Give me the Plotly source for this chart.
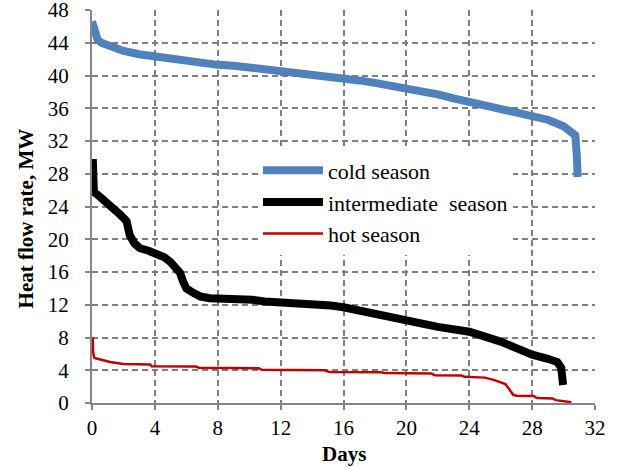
import plotly.graph_objects as go

cold_days = [0, 0.08, 0.2, 0.35, 0.6, 1, 1.5, 2, 3, 4, 5, 6, 7, 8, 9, 10, 11, 12, 13, 14, 15, 16, 17, 18, 19, 20, 21, 22, 23, 24, 25, 26, 27, 28, 29, 30, 30.5, 30.75, 30.85, 30.9]
cold_vals = [46.6, 46.2, 45.2, 44.4, 44.0, 43.7, 43.3, 43.0, 42.6, 42.3, 42.0, 41.8, 41.6, 41.3, 41.2, 41.0, 40.8, 40.6, 40.3, 40.1, 39.9, 39.7, 39.4, 39.1, 38.8, 38.5, 38.1, 37.7, 37.2, 36.8, 36.4, 36.0, 35.6, 35.1, 34.6, 33.8, 33.2, 32.7, 30.0, 27.6]

inter_days = [0.05, 0.08, 0.12, 0.5, 1.15, 1.8, 2.2, 2.4, 2.7, 3.05, 3.6, 4.1, 4.6, 5.0, 5.4, 5.6, 5.8, 6.0, 6.5, 6.9, 7.5, 8.0, 9.0, 10.2, 11.0, 12.2, 13.2, 14.5, 15.2, 16.0, 17.5, 19.0, 20.0, 22.0, 24.0, 25.0, 26.0, 27.0, 28.0, 29.0, 29.6, 29.85, 29.95, 29.97]
inter_vals = [29.8, 27.5, 25.8, 25.2, 24.2, 23.0, 22.2, 20.5, 19.5, 18.9, 18.6, 18.3, 17.8, 17.2, 16.5, 15.9, 14.8, 14.0, 13.4, 13.0, 12.8, 12.8, 12.6, 12.6, 12.4, 12.3, 12.2, 12.0, 11.9, 11.7, 11.1, 10.4, 9.9, 9.3, 8.7, 8.2, 7.5, 6.7, 5.9, 5.4, 5.0, 4.3, 3.2, 2.2]

hot_days = [0.05, 0.07, 0.15, 0.5, 1.15, 2.0, 3.7, 3.8, 6.6, 6.8, 10.6, 10.8, 14.8, 15.1, 18.4, 18.6, 21.6, 21.8, 23.5, 23.7, 25.0, 25.6, 26.3, 26.5, 26.8, 27.0, 28.1, 28.3, 29.3, 29.5, 30.5]
hot_vals = [8.0, 6.2, 5.5, 5.3, 5.0, 4.75, 4.7, 4.5, 4.45, 4.3, 4.25, 4.05, 4.0, 3.8, 3.75, 3.65, 3.6, 3.4, 3.35, 3.2, 3.1, 2.8, 2.3, 1.8, 1.0, 0.9, 0.85, 0.6, 0.55, 0.35, 0.1]

x_ticks = [0, 4, 8, 12, 16, 20, 24, 28, 32]
y_ticks = [0, 4, 8, 12, 16, 20, 24, 28, 32, 36, 40, 44, 48]

fig = go.Figure()
fig.add_trace(go.Scatter(x=cold_days, y=cold_vals, mode="lines", name="cold season",
                         legendgroup="a", line=dict(color="#4F81BD", width=8)))
fig.add_trace(go.Scatter(x=inter_days, y=inter_vals, mode="lines", name="intermediate  season",
                         legendgroup="b", line=dict(color="#000000", width=8)))
fig.add_trace(go.Scatter(x=hot_days, y=hot_vals, mode="lines", name="hot season",
                         legendgroup="c", line=dict(color="#C00000", width=2.5)))

font_family = "Liberation Serif"
axis_common = dict(
    showgrid=True, gridcolor="#7F7F7F", gridwidth=1.5, griddash="6px,4px",
    showline=True, linecolor="#868686", linewidth=2,
    ticks="outside", ticklen=5, tickcolor="#868686", tickwidth=1.5,
    zeroline=False, ticklabeloverflow="allow",
    tickfont=dict(family=font_family, size=21, color="#000000"),
)
fig.update_xaxes(range=[0, 32], tickvals=x_ticks, ticktext=[str(v) for v in x_ticks],
                 ticklabelstandoff=0, **axis_common)
fig.update_yaxes(range=[0, 48], tickvals=y_ticks, ticktext=[str(v) for v in y_ticks],
                 ticklabelstandoff=12, **axis_common)

fig.add_annotation(text="<b>Heat flow rate, MW</b>", xref="paper", yref="paper",
                   x=-0.131, y=0.47, xanchor="center", yanchor="middle", textangle=-90,
                   showarrow=False, font=dict(family=font_family, size=21, color="#000"))
fig.add_annotation(text="<b>Days</b>", xref="paper", yref="paper",
                   x=0.5, y=-0.13, xanchor="center", yanchor="middle",
                   showarrow=False, font=dict(family=font_family, size=21, color="#000"))

fig.update_layout(
    width=620, height=467,
    margin=dict(l=92, r=25, t=10, b=64, autoexpand=False),
    paper_bgcolor="white", plot_bgcolor="white",
    font=dict(family=font_family),
    showlegend=True,
    legend=dict(x=0.33, y=0.645, xanchor="left", yanchor="top",
                bgcolor="rgba(255,255,255,1)", borderwidth=0,
                font=dict(family=font_family, size=22, color="#000"),
                itemwidth=60, tracegroupgap=2, traceorder="normal"),
)

fig.write_html("out.html", config={"displayModeBar": False},
               post_script="document.body.style.margin='0px';")
